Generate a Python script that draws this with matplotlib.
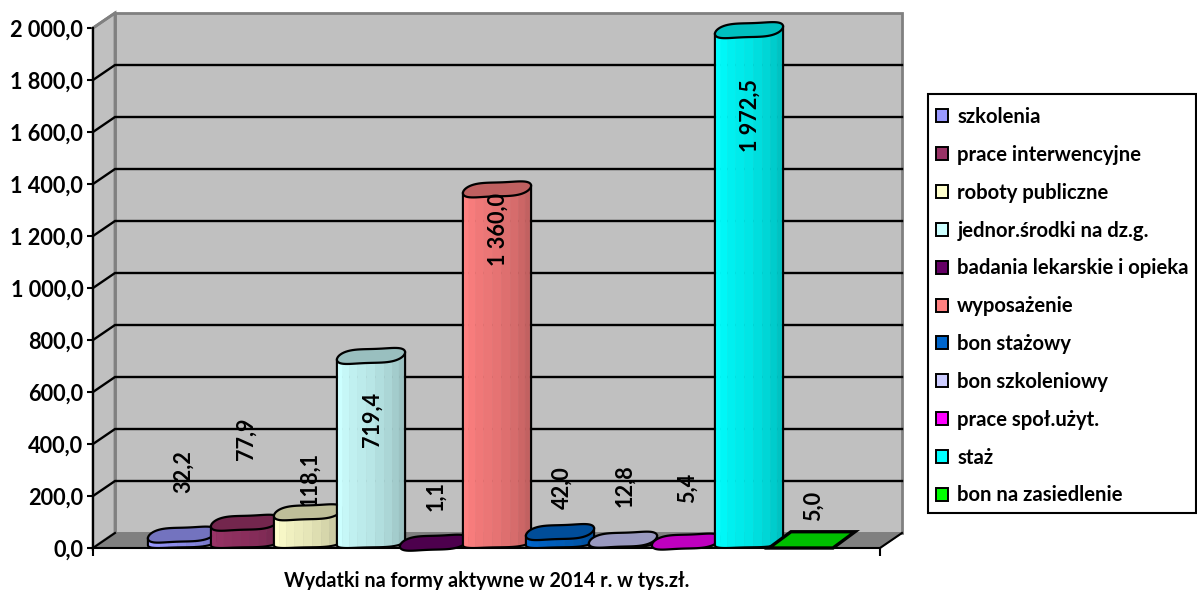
import numpy as np
import matplotlib
matplotlib.use("Agg")
import matplotlib.pyplot as plt
from matplotlib.patches import Polygon, Patch, Rectangle

categories = ["szkolenia", "prace interwencyjne", "roboty publiczne", "jednor.środki na dz.g.",
              "badania lekarskie i opieka", "wyposażenie", "bon stażowy", "bon szkoleniowy",
              "prace społ.użyt.", "staż", "bon na zasiedlenie"]
values = [32.2, 77.9, 118.1, 719.4, 1.1, 1360.0, 42.0, 12.8, 5.4, 1972.5, 5.0]
value_labels = ["32,2", "77,9", "118,1", "719,4", "1,1", "1 360,0", "42,0", "12,8", "5,4", "1 972,5", "5,0"]
colors = ["#9999ff", "#993366", "#ffffcc", "#ccffff", "#660066", "#ff8080",
          "#0066cc", "#ccccff", "#ff00ff", "#00ffff", "#00ff00"]
y_ticks = [0, 200, 400, 600, 800, 1000, 1200, 1400, 1600, 1800, 2000]
y_tick_labels = ["0,0", "200,0", "400,0", "600,0", "800,0", "1 000,0", "1 200,0",
                 "1 400,0", "1 600,0", "1 800,0", "2 000,0"]
x_title = "Wydatki na formy aktywne w 2014 r. w tys.zł."

# label placement: offset (px) of the label centre from the top of its bar
label_dy = [63, 84, 33, -63, 47, -40, 44, 54, 54, -85, 36]

plt.rcParams['font.family'] = ['Lato', 'DejaVu Sans']
plt.rcParams['font.weight'] = 'bold'

W, H = 1197, 590
fig = plt.figure(figsize=(W / 100, H / 100), dpi=100)
L, R, B, T = 93, 880, 548, 28
ax = fig.add_axes([L / W, 1 - B / H, (R - L) / W, (B - T) / H])
PX_Y = 2000 / (B - T)      # value units per pixel
X0, STEP = 182, 63
ax.set_xlim((L - X0) / STEP, (R - X0) / STEP)
ax.set_ylim(0, 2000)
xl = ax.get_xlim()
PX_X = 1 / STEP

DX, DY = 22 * PX_X, 15 * PX_Y
wall = "#c0c0c0"; edge = "#808080"


def poly(pts, **kw):
    p = Polygon(pts, closed=True, clip_on=False, **kw)
    ax.add_patch(p)
    return p


# walls and floor
poly([(xl[0] + DX, DY), (xl[1] + DX, DY), (xl[1] + DX, 2000 + DY), (xl[0] + DX, 2000 + DY)],
     fc=wall, ec=edge, lw=2, zorder=1)
poly([(xl[0], 0), (xl[0] + DX, DY), (xl[0] + DX, 2000 + DY), (xl[0], 2000)],
     fc=wall, ec=edge, lw=2, zorder=1)
poly([(xl[0], 0), (xl[1], 0), (xl[1] + DX, DY), (xl[0] + DX, DY)],
     fc=edge, ec=edge, lw=1, zorder=1.5)
for v in y_ticks[1:-1]:
    ax.plot([xl[0], xl[0] + DX, xl[1] + DX], [v, v + DY, v + DY], color="black", lw=1.7,
            clip_on=False, zorder=2, solid_joinstyle='miter')
ax.plot([xl[0], xl[0] + DX], [0, DY], color="black", lw=1.5, clip_on=False, zorder=2)
ax.plot([xl[1], xl[1] + DX], [0, DY], color="black", lw=1.5, clip_on=False, zorder=2)
ax.plot([xl[0], xl[0] + DX], [2000, 2000 + DY], color=edge, lw=2, clip_on=False, zorder=2)


def shade(c, f):
    rgb = np.array(matplotlib.colors.to_rgb(c))
    return tuple(rgb * f)


A, Bb = 33.5, 8.0
BASE = 5 * PX_Y


def rim(t):
    """Faceted, slightly tilted rim of a column; returns pixel offsets."""
    x = A * np.cos(t) + 0.6 * np.cos(3 * t)
    y = Bb * np.sin(t) + 3.0 * np.cos(t) + 1.3 * np.sin(3 * t + 0.6)
    return x, y


theta = np.linspace(0, 2 * np.pi, 73)
strips = [1.0, 1.0, 0.97, 0.94, 0.92, 0.9, 0.87, 0.84, 0.8, 0.76, 0.72]
LOW = 0.62
for i, (val, col) in enumerate(zip(values, colors)):
    z = 3 + i * 0.1
    base = BASE
    top = val + BASE
    if i == len(values) - 1:
        hw = 32 * PX_X
        d = 22 * PX_X
        h = 16 * PX_Y
        poly([(i - hw - 11 * PX_X, 0), (i + hw - 11 * PX_X, 0), (i + hw - 11 * PX_X + d, h + val * 0.2),
              (i - hw - 11 * PX_X + d, h + val * 0.2)],
             fc=shade(col, 0.75), ec="black", lw=2.4, zorder=z - 0.05)
        continue
    edges = np.linspace(np.pi, 2 * np.pi, len(strips) + 1)
    for s, f in enumerate(strips):
        ts = np.linspace(edges[s], edges[s + 1], 6)
        x, y = rim(ts)
        xs = i + x * PX_X
        low = base + y * LOW * PX_Y
        up = top + y * PX_Y
        poly(list(zip(xs, up)) + list(zip(xs[::-1], low[::-1])), fc=shade(col, f), ec=shade(col, f),
             lw=0.4, zorder=z)
    # outline of the body
    ts = np.linspace(np.pi, 2 * np.pi, 37)
    x, y = rim(ts)
    xs = i + x * PX_X
    pts_low = list(zip(xs, base + y * LOW * PX_Y))
    outline = [(xs[0], top + y[0] * PX_Y)] + pts_low + [(xs[-1], top + y[-1] * PX_Y)]
    ox, oy = zip(*outline)
    ax.plot(ox, oy, color="black", lw=1.5, clip_on=False, zorder=z + 0.01)
    x, y = rim(theta)
    poly(list(zip(i + x * PX_X, top + y * PX_Y)), fc=shade(col, 0.75), ec="black", lw=1.6, zorder=z + 0.02)

# value labels
for i, (val, lab, d) in enumerate(zip(values, value_labels, label_dy)):
    zo = 2.5 if i == 2 else 6
    ax.annotate(lab, xy=(i, val + BASE), xytext=(1.2, d * 0.72), textcoords="offset points",
                rotation=90, ha="center", va="center", fontsize=15.6, fontweight="bold",
                color="black", zorder=zo, annotation_clip=False)

# axes
for s in ("top", "right"):
    ax.spines[s].set_visible(False)
ax.patch.set_alpha(0)
for s in ("left", "bottom"):
    ax.spines[s].set_linewidth(1.5)
    ax.spines[s].set_zorder(2.8)
ax.set_yticks(y_ticks, y_tick_labels, fontsize=15.6, fontweight="bold")
ax.set_xticks(list(xl), ["", ""])
ax.tick_params(axis="y", length=4, width=1.5, pad=3)
ax.tick_params(axis="x", length=6, width=1.5)
ax.set_xlabel(x_title, fontsize=14.2, fontweight="bold", labelpad=8)
ax.xaxis.set_label_coords((487 - L) / (R - L), -(581 - B) / (B - T), transform=ax.transAxes)
ax.xaxis.label.set_va("center")

# legend
fig.add_artist(Rectangle((928 / W, 1 - 513 / H), (1196 - 928) / W, (513 - 94) / H,
                         transform=fig.transFigure, fc="white", ec="black", lw=1.5))
handles = [Patch(fc=c, ec="black", lw=1.4) for c in colors]
leg = fig.legend(handles, categories, loc="upper left",
                 bbox_to_anchor=(936 / W, 1 - 107 / H), bbox_transform=fig.transFigure,
                 frameon=False, fontsize=14.6, borderpad=0, borderaxespad=0,
                 handlelength=0.6, handleheight=0.6, handletextpad=0.45, labelspacing=0.88)
for t in leg.get_texts():
    t.set_fontweight("bold")
fig.savefig("out.png", dpi=100)
